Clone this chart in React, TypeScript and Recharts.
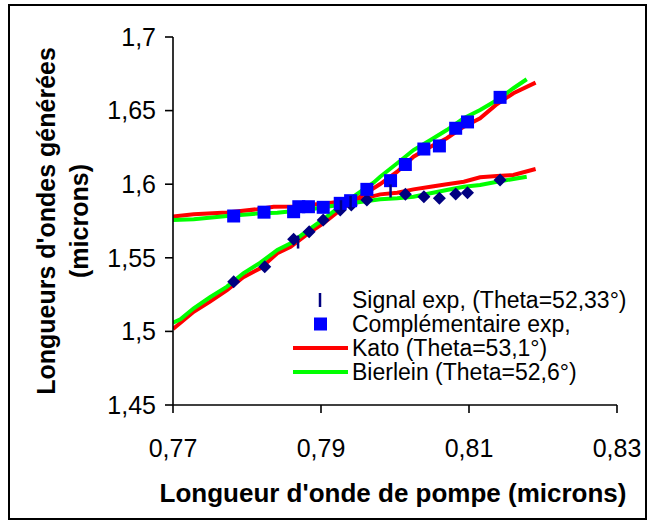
import React from 'react';
import { ComposedChart, Line, Scatter, XAxis, YAxis, Customized } from 'recharts';

// Mesures (microns) : pompe en x, ondes générées en y
const signalExp = [
  { x: 0.7782, y: 1.5338 }, { x: 0.7824, y: 1.544 }, { x: 0.7863, y: 1.5626 }, { x: 0.7884, y: 1.5677 },
  { x: 0.7903, y: 1.5757 }, { x: 0.7926, y: 1.5825 }, { x: 0.7941, y: 1.5859 }, { x: 0.7962, y: 1.5893 },
  { x: 0.8014, y: 1.5931 }, { x: 0.8039, y: 1.5915 }, { x: 0.806, y: 1.5904 }, { x: 0.8082, y: 1.5933 },
  { x: 0.8098, y: 1.5942 }, { x: 0.8142, y: 1.6029 },
];

const signalBars = [
  { x: 0.7869, y: 1.5607 }, { x: 0.7927, y: 1.5847 }, { x: 0.794, y: 1.5876 }, { x: 0.7994, y: 1.5954 },
];

const complementaireExp = [
  { x: 0.7782, y: 1.5784 }, { x: 0.7823, y: 1.581 }, { x: 0.7863, y: 1.5813 }, { x: 0.787, y: 1.5847 },
  { x: 0.7883, y: 1.5847 }, { x: 0.7903, y: 1.5843 }, { x: 0.7926, y: 1.587 }, { x: 0.794, y: 1.5888 },
  { x: 0.7962, y: 1.5965 }, { x: 0.7994, y: 1.6024 }, { x: 0.8014, y: 1.6134 }, { x: 0.8039, y: 1.6239 },
  { x: 0.806, y: 1.626 }, { x: 0.8082, y: 1.638 }, { x: 0.8098, y: 1.6423 }, { x: 0.8142, y: 1.659 },
];

// Courbes théoriques, deux branches par modèle
const katoMontante = [
  { x: 0.77, y: 1.5016 }, { x: 0.7728, y: 1.5134 }, { x: 0.775, y: 1.5202 }, { x: 0.7773, y: 1.5281 },
  { x: 0.7795, y: 1.5368 }, { x: 0.7818, y: 1.5429 }, { x: 0.7841, y: 1.5531 }, { x: 0.7859, y: 1.5575 },
  { x: 0.7886, y: 1.5677 }, { x: 0.7904, y: 1.5738 }, { x: 0.7926, y: 1.5825 }, { x: 0.7949, y: 1.5904 },
  { x: 0.7971, y: 1.5972 }, { x: 0.798, y: 1.6001 }, { x: 0.8003, y: 1.6085 }, { x: 0.8025, y: 1.6187 },
  { x: 0.8048, y: 1.6255 }, { x: 0.807, y: 1.6312 }, { x: 0.8093, y: 1.6391 }, { x: 0.8115, y: 1.6448 },
  { x: 0.8138, y: 1.6545 }, { x: 0.816, y: 1.6618 }, { x: 0.819, y: 1.669 },
];

const katoPlate = [
  { x: 0.77, y: 1.578 }, { x: 0.7728, y: 1.5796 }, { x: 0.7773, y: 1.5808 }, { x: 0.7814, y: 1.583 },
  { x: 0.7836, y: 1.5847 }, { x: 0.7863, y: 1.5849 }, { x: 0.7908, y: 1.587 }, { x: 0.7953, y: 1.5897 },
  { x: 0.798, y: 1.5931 }, { x: 0.8003, y: 1.5942 }, { x: 0.8025, y: 1.5965 }, { x: 0.8048, y: 1.5983 },
  { x: 0.807, y: 1.5999 }, { x: 0.8093, y: 1.6017 }, { x: 0.8115, y: 1.6047 }, { x: 0.8138, y: 1.6056 },
  { x: 0.816, y: 1.6063 }, { x: 0.819, y: 1.6103 },
];

const bierleinMontante = [
  { x: 0.77, y: 1.5059 }, { x: 0.771, y: 1.5082 }, { x: 0.7728, y: 1.5157 }, { x: 0.775, y: 1.5232 },
  { x: 0.7773, y: 1.5304 }, { x: 0.7795, y: 1.5395 }, { x: 0.7818, y: 1.5467 }, { x: 0.7841, y: 1.5553 },
  { x: 0.7859, y: 1.5599 }, { x: 0.7886, y: 1.57 }, { x: 0.7904, y: 1.5765 }, { x: 0.7926, y: 1.585 },
  { x: 0.7949, y: 1.5935 }, { x: 0.7971, y: 1.601 }, { x: 0.798, y: 1.6051 }, { x: 0.8003, y: 1.6142 },
  { x: 0.8025, y: 1.6232 }, { x: 0.8048, y: 1.63 }, { x: 0.807, y: 1.6368 }, { x: 0.8093, y: 1.6448 },
  { x: 0.8115, y: 1.6504 }, { x: 0.8138, y: 1.6572 }, { x: 0.816, y: 1.6652 }, { x: 0.8178, y: 1.6713 },
];

const bierleinPlate = [
  { x: 0.77, y: 1.5757 }, { x: 0.7728, y: 1.5762 }, { x: 0.7773, y: 1.5784 }, { x: 0.7818, y: 1.5802 },
  { x: 0.7841, y: 1.5806 }, { x: 0.7886, y: 1.583 }, { x: 0.7926, y: 1.586 }, { x: 0.798, y: 1.5897 },
  { x: 0.8003, y: 1.5904 }, { x: 0.8025, y: 1.5915 }, { x: 0.8048, y: 1.5938 }, { x: 0.807, y: 1.5961 },
  { x: 0.8093, y: 1.5983 }, { x: 0.8115, y: 1.5995 }, { x: 0.8138, y: 1.6017 }, { x: 0.8178, y: 1.6051 },
];

const xTicks = [0.77, 0.79, 0.81, 0.83];
const yTicks = [1.45, 1.5, 1.55, 1.6, 1.65, 1.7];

const legendLabels = ['Signal exp, (Theta=52,33°)', 'Complémentaire exp,', 'Kato (Theta=53,1°)', 'Bierlein (Theta=52,6°)'];

const FONT = '"Liberation Sans", Arial, sans-serif';
const NAVY = '#000080';
const BLUE = '#0000FF';
const RED = '#FF0000';
const GREEN = '#00FF00';

const frDecimal = (v: number) => String(Number(v.toFixed(3))).replace('.', ',');

const Diamond = (p: any) => (
  <polygon
    points={`${p.cx},${p.cy - 6.5} ${p.cx + 6.5},${p.cy} ${p.cx},${p.cy + 6.5} ${p.cx - 6.5},${p.cy}`}
    fill={NAVY}
  />
);

const Square = (p: any) => <rect x={p.cx - 6.5} y={p.cy - 6.5} width={13} height={13} fill={BLUE} />;

const Bar = (p: any) => <line x1={p.cx} x2={p.cx} y1={p.cy - 6.5} y2={p.cy + 6.5} stroke={NAVY} strokeWidth={2.5} />;

// Légende dessinée à la main, en bas à droite du tracé
const LegendBox = () => {
  const left = 285;
  const top = 300;
  const step = 24;
  return (
    <g fontFamily={FONT} fontSize={23} fill="#000">
      <line x1={left + 35} x2={left + 35} y1={top - 7} y2={top + 7} stroke={NAVY} strokeWidth={2.5} />
      <rect x={left + 29} y={top + step - 6.5} width={13} height={13} fill={BLUE} />
      <line x1={left + 8} x2={left + 63} y1={top + 2 * step} y2={top + 2 * step} stroke={RED} strokeWidth={4} />
      <line x1={left + 8} x2={left + 63} y1={top + 3 * step} y2={top + 3 * step} stroke={GREEN} strokeWidth={4} />
      {legendLabels.map((label, i) => (
        <text key={label} x={left + 67} y={top + i * step + 8}>
          {label}
        </text>
      ))}
    </g>
  );
};

const Titles = () => (
  <g fontFamily={FONT} fontWeight="bold" fill="#000">
    <text x={393} y={502} textAnchor="middle" fontSize={26}>
      Longueur d'onde de pompe (microns)
    </text>
    <text transform="translate(55,221) rotate(-90)" textAnchor="middle" fontSize={25}>
      Longueurs d'ondes générées
    </text>
    <text transform="translate(88,221) rotate(-90)" textAnchor="middle" fontSize={25}>
      (microns)
    </text>
  </g>
);

export default function App() {
  return (
    <div style={{ position: 'absolute', left: 0, top: 0, width: 653, height: 528, background: '#fff' }}>
      <div
        style={{
          position: 'absolute',
          left: 8,
          top: 4,
          width: 635,
          height: 512,
          border: '2px solid #000',
        }}
      />
      <ComposedChart
        width={653}
        height={528}
        margin={{ top: 37, right: 36, bottom: 63, left: 73 }}
        style={{ position: 'absolute', left: 0, top: 0 }}
      >
        <XAxis
          type="number"
          dataKey="x"
          domain={[0.77, 0.83]}
          ticks={xTicks}
          allowDataOverflow
          height={60}
          tickSize={8}
          tickMargin={26}
          tickFormatter={frDecimal}
          axisLine={{ stroke: '#000', strokeWidth: 1.6 }}
          tickLine={{ stroke: '#000', strokeWidth: 1.6 }}
          tick={{ fill: '#000', fontSize: 25, fontFamily: FONT }}
        />
        <YAxis
          type="number"
          dataKey="y"
          domain={[1.45, 1.7]}
          ticks={yTicks}
          allowDataOverflow
          width={100}
          tickSize={8}
          tickMargin={9}
          tickFormatter={frDecimal}
          axisLine={{ stroke: '#000', strokeWidth: 1.6 }}
          tickLine={{ stroke: '#000', strokeWidth: 1.6 }}
          tick={{ fill: '#000', fontSize: 25, fontFamily: FONT }}
        />
        <Line data={katoMontante} dataKey="y" stroke={RED} strokeWidth={4} dot={false} isAnimationActive={false} />
        <Line data={katoPlate} dataKey="y" stroke={RED} strokeWidth={4} dot={false} isAnimationActive={false} />
        <Line data={bierleinMontante} dataKey="y" stroke={GREEN} strokeWidth={4} dot={false} isAnimationActive={false} />
        <Line data={bierleinPlate} dataKey="y" stroke={GREEN} strokeWidth={4} dot={false} isAnimationActive={false} />
        <Scatter data={signalExp} dataKey="y" shape={Diamond} isAnimationActive={false} />
        <Scatter data={complementaireExp} dataKey="y" shape={Square} isAnimationActive={false} />
        <Scatter data={signalBars} dataKey="y" shape={Bar} isAnimationActive={false} />
        <Customized component={LegendBox} />
        <Customized component={Titles} />
      </ComposedChart>
    </div>
  );
}
